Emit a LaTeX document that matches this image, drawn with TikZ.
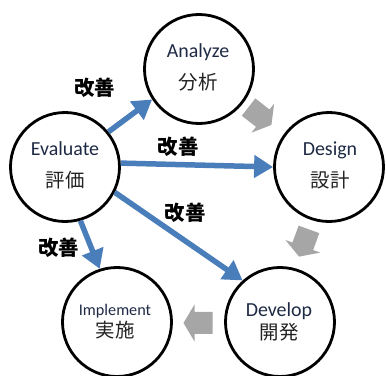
\documentclass[tikz,border=0pt]{standalone}
\usepackage{fontspec}
\setmainfont{Carlito}
\newfontfamily\jp{Noto Sans CJK JP}
\usetikzlibrary{arrows.meta}
\definecolor{stepblue}{HTML}{4A7EBB}
\definecolor{flowgray}{HTML}{A6A6A6}
\definecolor{entext}{HTML}{1E2A45}
\definecolor{jptext}{HTML}{222222}
\begin{document}
\begin{tikzpicture}[x=1bp,y=1bp,
  phase/.style={circle,draw=black,line width=2.8bp,fill=white,minimum size=109bp,inner sep=0pt},
  en/.style={font=\fontsize{20}{20}\selectfont,text=entext,inner sep=0pt},
  ensmall/.style={font=\fontsize{16.3}{16.3}\selectfont,text=entext,inner sep=0pt},
  ja/.style={font=\jp\fontsize{19.5}{19.5}\selectfont,text=jptext,inner sep=0pt},
  kaizen/.style={font=\jp\bfseries\fontsize{20.5}{20.5}\selectfont,text=black,inner sep=0pt},
  feedback/.style={draw=stepblue,line width=5.5bp,-{Triangle[length=19bp,width=22bp]}},
  flow/.style={fill=flowgray}
]
\useasboundingbox (0,0) rectangle (386,376);

% phase circles
\node[phase] (ana) at (199,307) {};
\node[phase] (eva) at (65,209) {};
\node[phase] (des) at (329,209) {};
\node[phase] (imp) at (117,54) {};
\node[phase] (dev) at (280,54) {};

% circle labels
\node[en] at (198,324) {Analyze};
\node[ja] at (198,294) {分析};
\node[en] at (65,227) {Evaluate};
\node[ja] at (65,196) {評価};
\node[en] at (330,226) {Design};
\node[ja] at (330,196) {設計};
\node[ensmall] at (115,65) {Implement};
\node[ja] at (115,46) {実施};
\node[en] at (279,65) {Develop};
\node[ja] at (279,44) {開発};

% gray block arrows between phases
\foreach \cx/\cy/\ang in {260/260/-38, 304/133/-110, 198/53/180}{
  \fill[flow,shift={(\cx,\cy)},rotate=\ang]
    (-14.5,-11) -- (3.5,-11) -- (3.5,-18.5) -- (14.5,0) -- (3.5,18.5) -- (3.5,11) -- (-14.5,11) -- cycle;
}

% feedback arrows from Evaluate
\draw[feedback] (eva.39) -- (ana.213);
\draw[feedback] (eva.4) -- (des.180);
\draw[feedback] (eva.-27) -- (dev.132);
\draw[feedback] (eva.-74) -- (imp.108);

% feedback labels
\node[kaizen] at (95,288) {改善};
\node[kaizen] at (178,229) {改善};
\node[kaizen] at (185,163) {改善};
\node[kaizen] at (59,128) {改善};
\end{tikzpicture}
\end{document}
